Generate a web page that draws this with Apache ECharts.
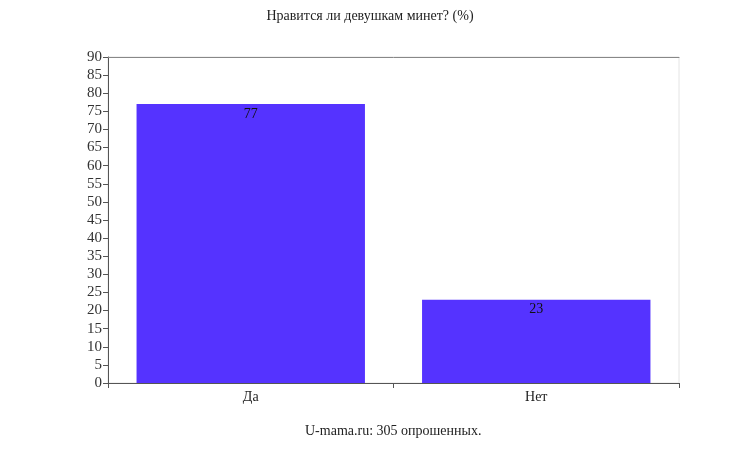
<!DOCTYPE html>
<html><head><meta charset="utf-8">
<script src="https://cdn.jsdelivr.net/npm/echarts@6/dist/echarts.min.js"></script>
<style>html,body{margin:0;padding:0;background:#fff}#c{width:740px;height:450px}</style>
</head><body><div id="c"></div>
<script>
const categories = ["Да", "Нет"];
const values = [77, 23];
const titleText = "Нравится ли девушкам минет? (%)";
const footerText = "U-mama.ru: 305 опрошенных.";
const FONT = "'Liberation Serif', 'DejaVu Serif', serif";
const chart = echarts.init(document.getElementById('c'));
chart.setOption({
  backgroundColor: '#fff',
  animation: false,
  title: [
    {text: titleText, left: 'center', top: 4, textStyle: {fontFamily: FONT, fontSize: 14, fontWeight: 'normal', color: '#222'}}
  ],
  graphic: [
    {type: 'text', left: 305, top: 424, style: {text: footerText, font: "14px 'Liberation Serif', 'DejaVu Serif', serif", fill: '#222'}}
  ],
  grid: {left: 108, right: 61, top: 57, bottom: 67, show: true, borderColor: '#e4e4e4', borderWidth: 1},
  xAxis: [
    {type: 'category', data: categories, position: 'bottom',
     axisLine: {lineStyle: {color: '#555'}},
     axisTick: {show: true, length: 5, lineStyle: {color: '#555'}},
     axisLabel: {fontFamily: FONT, fontSize: 14, color: '#222', margin: 7}},
    {type: 'category', data: categories, position: 'top',
     axisLine: {lineStyle: {color: '#888'}}, axisTick: {show: false}, axisLabel: {show: false}}
  ],
  yAxis: {type: 'value', min: 0, max: 90, interval: 5,
    axisLine: {show: true, lineStyle: {color: '#555'}},
    axisTick: {show: true, length: 5, lineStyle: {color: '#555'}},
    splitLine: {show: false},
    axisLabel: {fontFamily: FONT, fontSize: 15, color: '#333', margin: 6}},
  series: [{
    type: 'bar', data: values, xAxisIndex: 0, barCategoryGap: '20%',
    itemStyle: {color: '#5533ff'},
    label: {show: true, position: 'insideTop', distance: 3, fontFamily: FONT, fontSize: 14, color: '#111'}
  }]
});
</script></body></html>
